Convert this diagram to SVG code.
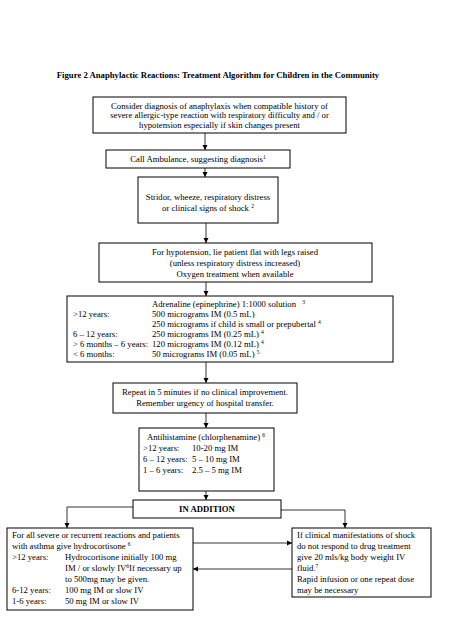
<svg xmlns="http://www.w3.org/2000/svg" width="452" height="640" viewBox="0 0 452 640">
<style>
text{font-family:"Liberation Serif","Times New Roman",serif;font-size:8.7px;fill:#000}
.c{text-anchor:middle}
.b{font-weight:bold}
.box{fill:#fff;stroke:#000;stroke-width:1}
.ln{fill:none;stroke:#000;stroke-width:0.8}
.s{font-size:5.5px}
</style>
<defs>
<marker id="ah" markerWidth="6" markerHeight="6" refX="5" refY="3" orient="auto" markerUnits="userSpaceOnUse">
<path d="M0,0.5 L5,3 L0,5.5 z" fill="#000"/>
</marker>
</defs>
<rect width="452" height="640" fill="#fff"/>
<text class="c b" x="218" y="78" font-size="9.3">Figure 2 Anaphylactic Reactions: Treatment Algorithm for Children in the Community</text>

<g id="connectors">
<line class="ln" x1="205" y1="133" x2="205" y2="150" marker-end="url(#ah)"/>
<line class="ln" x1="205" y1="168" x2="205" y2="177" marker-end="url(#ah)"/>
<line class="ln" x1="206" y1="223" x2="206" y2="243" marker-end="url(#ah)"/>
<line class="ln" x1="206" y1="282" x2="206" y2="296" marker-end="url(#ah)"/>
<line class="ln" x1="206" y1="362" x2="206" y2="383" marker-end="url(#ah)"/>
<line class="ln" x1="206" y1="413" x2="206" y2="428" marker-end="url(#ah)"/>
<line class="ln" x1="206" y1="491" x2="206" y2="500" marker-end="url(#ah)"/>
<polyline class="ln" points="133,507 67,507 67,528" marker-end="url(#ah)"/>
<polyline class="ln" points="281,510 345,510 345,528" marker-end="url(#ah)"/>
<line class="ln" x1="193" y1="543" x2="292" y2="543" marker-end="url(#ah)"/>
<line class="ln" x1="292" y1="569" x2="193" y2="569" marker-end="url(#ah)"/>
</g>

<g id="n1">
<rect class="box" x="93" y="97" width="253" height="36"/>
<text class="c" x="219.5" y="108.5">Consider diagnosis of anaphylaxis when compatible history of</text>
<text class="c" x="219.5" y="118">severe allergic-type reaction with respiratory difficulty and / or</text>
<text class="c" x="219.5" y="127.5">hypotension especially if skin changes present</text>
</g>

<g id="n2">
<rect class="box" x="106" y="150" width="184" height="18"/>
<text class="c" x="198" y="162">Call Ambulance, suggesting diagnosis<tspan class="s" dy="-3">1</tspan></text>
</g>

<g id="n3">
<rect class="box" x="138" y="177" width="140" height="46"/>
<text class="c" x="208" y="200">Stridor, wheeze, respiratory distress</text>
<text class="c" x="208" y="211">or clinical signs of shock <tspan class="s" dy="-3">2</tspan></text>
</g>

<g id="n4">
<rect class="box" x="99" y="243" width="273" height="39"/>
<text class="c" x="235" y="255">For hypotension, lie patient flat with legs raised</text>
<text class="c" x="235" y="266">(unless respiratory distress increased)</text>
<text class="c" x="235" y="276.5">Oxygen treatment when available</text>
</g>

<g id="n5">
<rect class="box" x="67" y="296" width="326" height="66"/>
<text x="152" y="307">Adrenaline (epinephrine) 1:1000 solution <tspan class="s" dx="4" dy="-3">3</tspan></text>
<text x="73" y="317">&gt;12 years:</text>
<text x="152" y="317">500 micrograms IM (0.5 mL)</text>
<text x="152" y="327">250 micrograms if child is small or prepubertal <tspan class="s" dy="-3">4</tspan></text>
<text x="73" y="337">6 – 12 years:</text>
<text x="152" y="337">250 micrograms IM (0.25 mL) <tspan class="s" dy="-3">4</tspan></text>
<text x="73" y="347">&gt; 6 months – 6 years:</text>
<text x="152" y="347">120 micrograms IM (0.12 mL) <tspan class="s" dy="-3">4</tspan></text>
<text x="73" y="357">&lt; 6 months:</text>
<text x="152" y="357">50 micrograms IM (0.05 mL) <tspan class="s" dy="-3">5</tspan></text>
</g>

<g id="n6">
<rect class="box" x="113" y="383" width="184" height="30"/>
<text class="c" x="205" y="395">Repeat in 5 minutes if no clinical improvement.</text>
<text class="c" x="205" y="406">Remember urgency of hospital transfer.</text>
</g>

<g id="n7">
<rect class="box" x="139" y="428" width="135" height="63"/>
<text class="c" x="206" y="440">Antihistamine (chlorphenamine) <tspan class="s" dy="-3">6</tspan></text>
<text x="143" y="451">&gt;12 years:</text>
<text x="192" y="451">10-20 mg IM</text>
<text x="143" y="462">6 – 12 years:</text>
<text x="192" y="462">5 – 10 mg IM</text>
<text x="143" y="473">1 – 6 years:</text>
<text x="192" y="473">2.5 – 5 mg IM</text>
</g>

<g id="n8">
<rect class="box" x="133" y="500" width="148" height="18"/>
<text class="c b" x="207" y="512">IN ADDITION</text>
</g>

<g id="n9">
<rect class="box" x="7" y="528" width="186" height="82"/>
<text x="12" y="538">For all severe or recurrent reactions and patients</text>
<text x="12" y="549">with asthma give hydrocortisone <tspan class="s" dy="-3">6</tspan></text>
<text x="12" y="560">&gt;12 years:</text>
<text x="65" y="560">Hydrocortisone initially 100 mg</text>
<text x="65" y="571">IM / or slowly IV<tspan class="s" dy="-3">6</tspan><tspan dy="3">If necessary up</tspan></text>
<text x="65" y="582">to 500mg may be given.</text>
<text x="12" y="593">6-12 years:</text>
<text x="65" y="593">100 mg IM or slow IV</text>
<text x="12" y="604">1-6 years:</text>
<text x="65" y="604">50 mg IM or slow IV</text>
</g>

<g id="n10">
<rect class="box" x="292" y="528" width="139" height="69"/>
<text x="297" y="538">If clinical manifestations of shock</text>
<text x="297" y="549">do not respond to drug treatment</text>
<text x="297" y="560">give 20 mls/kg body weight IV</text>
<text x="297" y="571">fluid.<tspan class="s" dy="-3">7</tspan></text>
<text x="297" y="582">Rapid infusion or one repeat dose</text>
<text x="297" y="593">may be necessary</text>
</g>
</svg>
